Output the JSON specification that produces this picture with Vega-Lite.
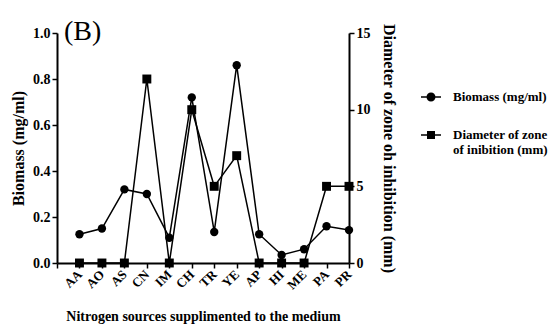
{
  "$schema": "https://vega.github.io/schema/vega-lite/v6.json",
  "width": 292,
  "height": 230,
  "autosize": "none",
  "padding": {"left": 57, "top": 33, "right": 207, "bottom": 64},
  "background": "white",
  "title": {"text": "(B)", "anchor": "start", "frame": "group", "dx": 7, "offset": -23, "font": "Liberation Serif", "fontSize": 28, "fontWeight": "normal", "color": "black"},
  "config": {
    "view": {"stroke": null},
    "font": "Liberation Serif",
    "axis": {"labelFont": "Liberation Serif", "titleFont": "Liberation Serif", "labelFontWeight": "bold", "titleFontWeight": "bold", "labelColor": "black", "titleColor": "black", "domainColor": "black", "tickColor": "black", "domainWidth": 2, "tickWidth": 1.5, "tickSize": 5, "grid": false, "labelFontSize": 14, "titleFontSize": 16}
  },
  "data": {"values": [
    {"source": "AA", "series": "Biomass (mg/ml)", "value": 0.125},
    {"source": "AO", "series": "Biomass (mg/ml)", "value": 0.15},
    {"source": "AS", "series": "Biomass (mg/ml)", "value": 0.32},
    {"source": "CN", "series": "Biomass (mg/ml)", "value": 0.30},
    {"source": "IM", "series": "Biomass (mg/ml)", "value": 0.11},
    {"source": "CH", "series": "Biomass (mg/ml)", "value": 0.72},
    {"source": "TR", "series": "Biomass (mg/ml)", "value": 0.135},
    {"source": "YE", "series": "Biomass (mg/ml)", "value": 0.86},
    {"source": "AP", "series": "Biomass (mg/ml)", "value": 0.125},
    {"source": "HI", "series": "Biomass (mg/ml)", "value": 0.035},
    {"source": "ME", "series": "Biomass (mg/ml)", "value": 0.06},
    {"source": "PA", "series": "Biomass (mg/ml)", "value": 0.16},
    {"source": "PR", "series": "Biomass (mg/ml)", "value": 0.143},
    {"source": "AA", "series": "Diameter of zone of inibition (mm)", "value": 0},
    {"source": "AO", "series": "Diameter of zone of inibition (mm)", "value": 0},
    {"source": "AS", "series": "Diameter of zone of inibition (mm)", "value": 0},
    {"source": "CN", "series": "Diameter of zone of inibition (mm)", "value": 12},
    {"source": "IM", "series": "Diameter of zone of inibition (mm)", "value": 0},
    {"source": "CH", "series": "Diameter of zone of inibition (mm)", "value": 10},
    {"source": "TR", "series": "Diameter of zone of inibition (mm)", "value": 5},
    {"source": "YE", "series": "Diameter of zone of inibition (mm)", "value": 7},
    {"source": "AP", "series": "Diameter of zone of inibition (mm)", "value": 0},
    {"source": "HI", "series": "Diameter of zone of inibition (mm)", "value": 0},
    {"source": "ME", "series": "Diameter of zone of inibition (mm)", "value": 0},
    {"source": "PA", "series": "Diameter of zone of inibition (mm)", "value": 5},
    {"source": "PR", "series": "Diameter of zone of inibition (mm)", "value": 5}
  ]},
  "encoding": {
    "x": {"field": "source", "type": "nominal", "sort": null,
      "scale": {"type": "point", "domain": [" ", "AA", "AO", "AS", "CN", "IM", "CH", "TR", "YE", "AP", "HI", "ME", "PA", "PR"], "padding": 0},
      "axis": {"title": "Nitrogen sources supplimented to the medium", "labelAngle": -45, "labelAlign": "right", "labelBaseline": "middle", "labelFontSize": 13, "labelPadding": 4, "titlePadding": 18, "titleFontSize": 14}
    }
  },
  "layer": [
    {
      "transform": [{"filter": "datum.series == 'Biomass (mg/ml)'"}],
      "encoding": {
        "y": {"field": "value", "type": "quantitative", "scale": {"domain": [0, 1]},
          "axis": {"title": "Biomass (mg/ml)", "values": [0, 0.2, 0.4, 0.6, 0.8, 1.0], "format": ".1f", "titlePadding": 6}}
      },
      "layer": [
        {"mark": {"type": "line", "color": "black", "strokeWidth": 1.5}},
        {"mark": {"type": "point", "filled": true, "opacity": 1, "color": "black", "size": 70, "shape": "circle"}},
        {"mark": {"type": "point", "filled": true, "opacity": 0, "color": "black", "size": 70},
          "encoding": {"shape": {"field": "series", "type": "nominal",
            "scale": {"domain": ["Biomass (mg/ml)", "Diameter of zone of inibition (mm)"], "range": ["M-1,-0.075H-0.44V0.075H-1Z M0.44,-0.075H1V0.075H0.44Z M-0.45,0A0.45,0.45,0,1,1,0.45,0A0.45,0.45,0,1,1,-0.45,0Z", "M-1,-0.075H-0.4V0.075H-1Z M0.4,-0.075H1V0.075H0.4Z M-0.4,-0.4H0.4V0.4H-0.4Z"]},
            "legend": {"orient": "none", "legendX": 364, "legendY": 54, "title": null,
              "labelFont": "Liberation Serif", "labelFontWeight": "bold", "labelFontSize": 13, "labelColor": "black",
              "labelExpr": "datum.label == 'Biomass (mg/ml)' ? datum.label : ['Diameter of zone', 'of inibition (mm)']",
              "labelLimit": 300, "symbolSize": 400, "rowPadding": 21, "labelOffset": 12,
              "symbolOpacity": 1, "symbolStrokeWidth": 0, "symbolFillColor": "black",
              "encode": {"labels": {"update": {"lineHeight": {"value": 22}}}}
            }}}
        }
      ]
    },
    {
      "transform": [{"filter": "datum.series != 'Biomass (mg/ml)'"}],
      "encoding": {
        "y": {"field": "value", "type": "quantitative", "scale": {"domain": [0, 15]},
          "axis": {"orient": "right", "title": "Diameter of zone oh inhibition (mm)", "values": [0, 5, 10, 15], "titlePadding": 10}}
      },
      "layer": [
        {"mark": {"type": "line", "color": "black", "strokeWidth": 1.5}},
        {"mark": {"type": "point", "filled": true, "opacity": 1, "color": "black", "size": 80, "shape": "square"}}
      ]
    }
  ],
  "resolve": {"scale": {"y": "independent"}}
}
